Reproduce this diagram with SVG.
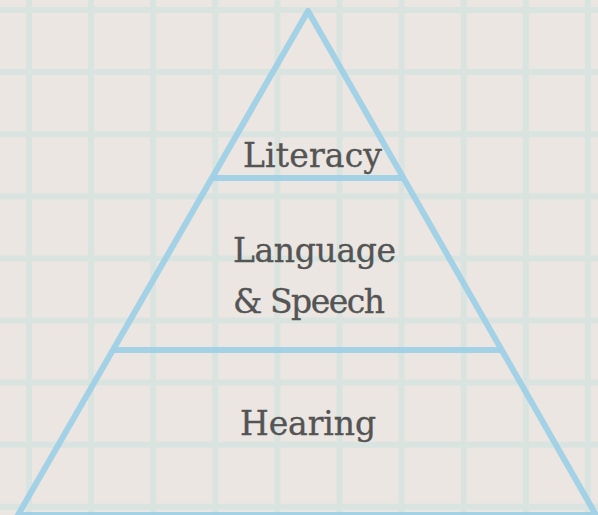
<svg xmlns="http://www.w3.org/2000/svg" width="598" height="515" viewBox="0 0 598 515">
  <style>
    .grid line { stroke: #d9e4e1; stroke-width: 6; }
    .tri { fill: none; stroke: #9fd0e6; stroke-width: 6; stroke-linejoin: round; opacity: 0.95; }
    .lbl { font-family: "DejaVu Serif", "Liberation Serif", serif; font-size: 33px; fill: #545454; stroke: #545454; stroke-width: 0.35; }
  </style>
  <rect x="0" y="0" width="598" height="515" fill="#ebe6e1"/>
  <g class="grid" id="grid">
    <line x1="29" y1="0" x2="29" y2="515"/>
    <line x1="91.1" y1="0" x2="91.1" y2="515"/>
    <line x1="153.2" y1="0" x2="153.2" y2="515"/>
    <line x1="215.3" y1="0" x2="215.3" y2="515"/>
    <line x1="277.4" y1="0" x2="277.4" y2="515"/>
    <line x1="339.5" y1="0" x2="339.5" y2="515"/>
    <line x1="401.6" y1="0" x2="401.6" y2="515"/>
    <line x1="463.7" y1="0" x2="463.7" y2="515"/>
    <line x1="525.8" y1="0" x2="525.8" y2="515"/>
    <line x1="587.9" y1="0" x2="587.9" y2="515"/>
    <line x1="0" y1="10" x2="598" y2="10"/>
    <line x1="0" y1="72.1" x2="598" y2="72.1"/>
    <line x1="0" y1="134.2" x2="598" y2="134.2"/>
    <line x1="0" y1="196.3" x2="598" y2="196.3"/>
    <line x1="0" y1="258.4" x2="598" y2="258.4"/>
    <line x1="0" y1="320.5" x2="598" y2="320.5"/>
    <line x1="0" y1="382.6" x2="598" y2="382.6"/>
    <line x1="0" y1="444.7" x2="598" y2="444.7"/>
    <line x1="0" y1="506.8" x2="598" y2="506.8"/>
  </g>
  <g id="connectors">
    <polygon class="tri" points="308,11 18,515 596,515"/>
    <line class="tri" x1="212" y1="178" x2="403" y2="178"/>
    <line class="tri" x1="113" y1="350" x2="502" y2="350"/>
  </g>
  <g id="literacy">
    <text class="lbl" x="243" y="167" textLength="139" lengthAdjust="spacing">Literacy</text>
  </g>
  <g id="language-speech">
    <text class="lbl" x="233" y="262" textLength="163" lengthAdjust="spacing">Language</text>
    <text class="lbl" x="233" y="313" textLength="152" lengthAdjust="spacing">&amp; Speech</text>
  </g>
  <g id="hearing">
    <text class="lbl" x="240" y="435" textLength="136" lengthAdjust="spacing">Hearing</text>
  </g>
</svg>
